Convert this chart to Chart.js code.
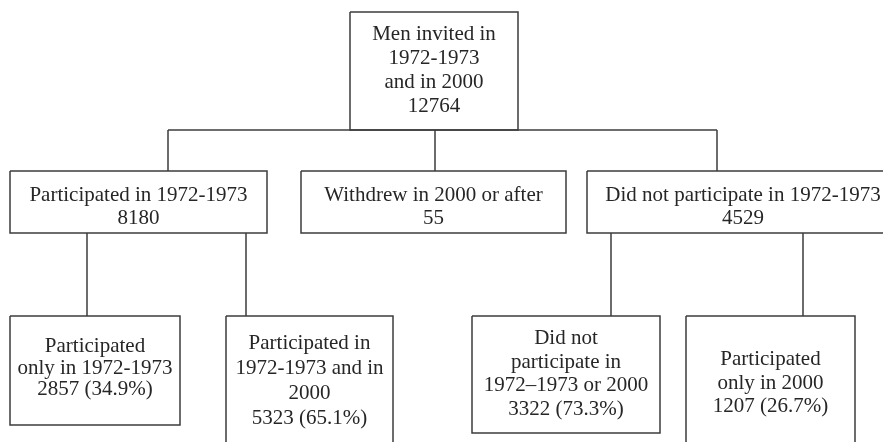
<!DOCTYPE html>
<html>
<head>
<meta charset="utf-8">
<script src="https://cdn.jsdelivr.net/npm/chart.js@4/dist/chart.umd.min.js"></script>
<style>
  html, body { margin: 0; padding: 0; background: #ffffff; }
  #wrap { width: 883px; height: 442px; position: relative; }
</style>
</head>
<body>
<div id="wrap"><canvas id="c" width="883" height="442"></canvas></div>
<script>
// ---- DATA ----
const nodeTitles = [
  ["Men invited in", "1972-1973", "and in 2000"],
  ["Participated in 1972-1973"],
  ["Withdrew in 2000 or after"],
  ["Did not participate in 1972-1973"],
  ["Participated", "only in 1972-1973"],
  ["Participated in", "1972-1973 and in", "2000"],
  ["Did not", "participate in", "1972\u20131973 or 2000"],
  ["Participated", "only in 2000"]
];
const nodeCounts   = [12764, 8180, 55, 4529, 2857, 5323, 3322, 1207];
const nodePercents = [null, null, null, null, 34.9, 65.1, 73.3, 26.7];
const nodeParents  = [null, 0, 0, 0, 1, 1, 3, 3];

// ---- LAYOUT (geometry, in canvas units) ----
// [left, right, top, bottom, connector anchor x, text centre y, line height, text centre x]
const layout = [
  [350, 518, 12, 130, 435, 70, 24, 434],
  [10, 267, 171, 233, 168, 207, 23, 138.5],
  [301, 566, 171, 233, 435, 207, 23, 433.5],
  [587, 900, 171, 233, 717, 207, 23, 743],
  [10, 180, 316, 425, 87, 368, 21.5, 95],
  [226, 393, 316, 460, 246, 381, 25, 309.5],
  [472, 660, 316, 433, 611, 374, 23.5, 566],
  [686, 855, 316, 460, 803, 383, 23.5, 770.5]
];

const LINE = '#3c3c3c';
const TEXT = '#262626';
const FONT = '21px "Liberation Serif", "Times New Roman", serif';

function nodeLines(i) {
  const last = nodePercents[i] === null
    ? String(nodeCounts[i])
    : nodeCounts[i] + ' (' + nodePercents[i].toFixed(1) + '%)';
  return nodeTitles[i].concat([last]);
}

const datasets = [];
// boxes
layout.forEach((b) => {
  const [l, r, t, bt] = b;
  datasets.push({
    data: [{x: l, y: t}, {x: r, y: t}, {x: r, y: bt}, {x: l, y: bt}, {x: l, y: t}],
    showLine: true, borderColor: LINE, borderWidth: 1.5, pointRadius: 0, fill: false, tension: 0
  });
});
// connectors: for each parent, a bus line under the parent and drops to each child
const parentsSeen = [...new Set(nodeParents.filter(p => p !== null))];
parentsSeen.forEach((p) => {
  const kids = nodeParents.map((q, i) => q === p ? i : -1).filter(i => i >= 0);
  const pb = layout[p];
  const yBus = pb[3];
  const xs = kids.map(k => layout[k][4]);
  const minX = Math.min(...xs), maxX = Math.max(...xs);
  if (kids.length > 1 && p === 0) {
    datasets.push({
      data: [{x: minX, y: yBus}, {x: maxX, y: yBus}],
      showLine: true, borderColor: LINE, borderWidth: 1.5, pointRadius: 0
    });
  }
  kids.forEach((k) => {
    const kb = layout[k];
    datasets.push({
      data: [{x: kb[4], y: yBus}, {x: kb[4], y: kb[2]}],
      showLine: true, borderColor: LINE, borderWidth: 1.5, pointRadius: 0
    });
  });
});

const textPlugin = {
  id: 'boxText',
  afterDatasetsDraw(chart) {
    const ctx = chart.ctx;
    const xs = chart.scales.x, ys = chart.scales.y;
    ctx.save();
    ctx.font = FONT;
    ctx.fillStyle = TEXT;
    ctx.textAlign = 'center';
    ctx.textBaseline = 'middle';
    layout.forEach((b, i) => {
      const lines = nodeLines(i);
      const lh = b[6];
      const cx = xs.getPixelForValue(b[7]);
      const startY = b[5] - lh * (lines.length - 1) / 2;
      lines.forEach((s, j) => {
        ctx.fillText(s, cx, ys.getPixelForValue(startY + j * lh));
      });
    });
    ctx.restore();
  }
};

new Chart(document.getElementById('c'), {
  type: 'scatter',
  data: { datasets },
  options: {
    responsive: false,
    animation: false,
    layout: { padding: 0 },
    plugins: { legend: { display: false }, tooltip: { enabled: false } },
    scales: {
      x: { type: 'linear', min: 0, max: 883, display: false },
      y: { type: 'linear', min: 0, max: 442, reverse: true, display: false }
    }
  },
  plugins: [textPlugin]
});
</script>
</body>
</html>
